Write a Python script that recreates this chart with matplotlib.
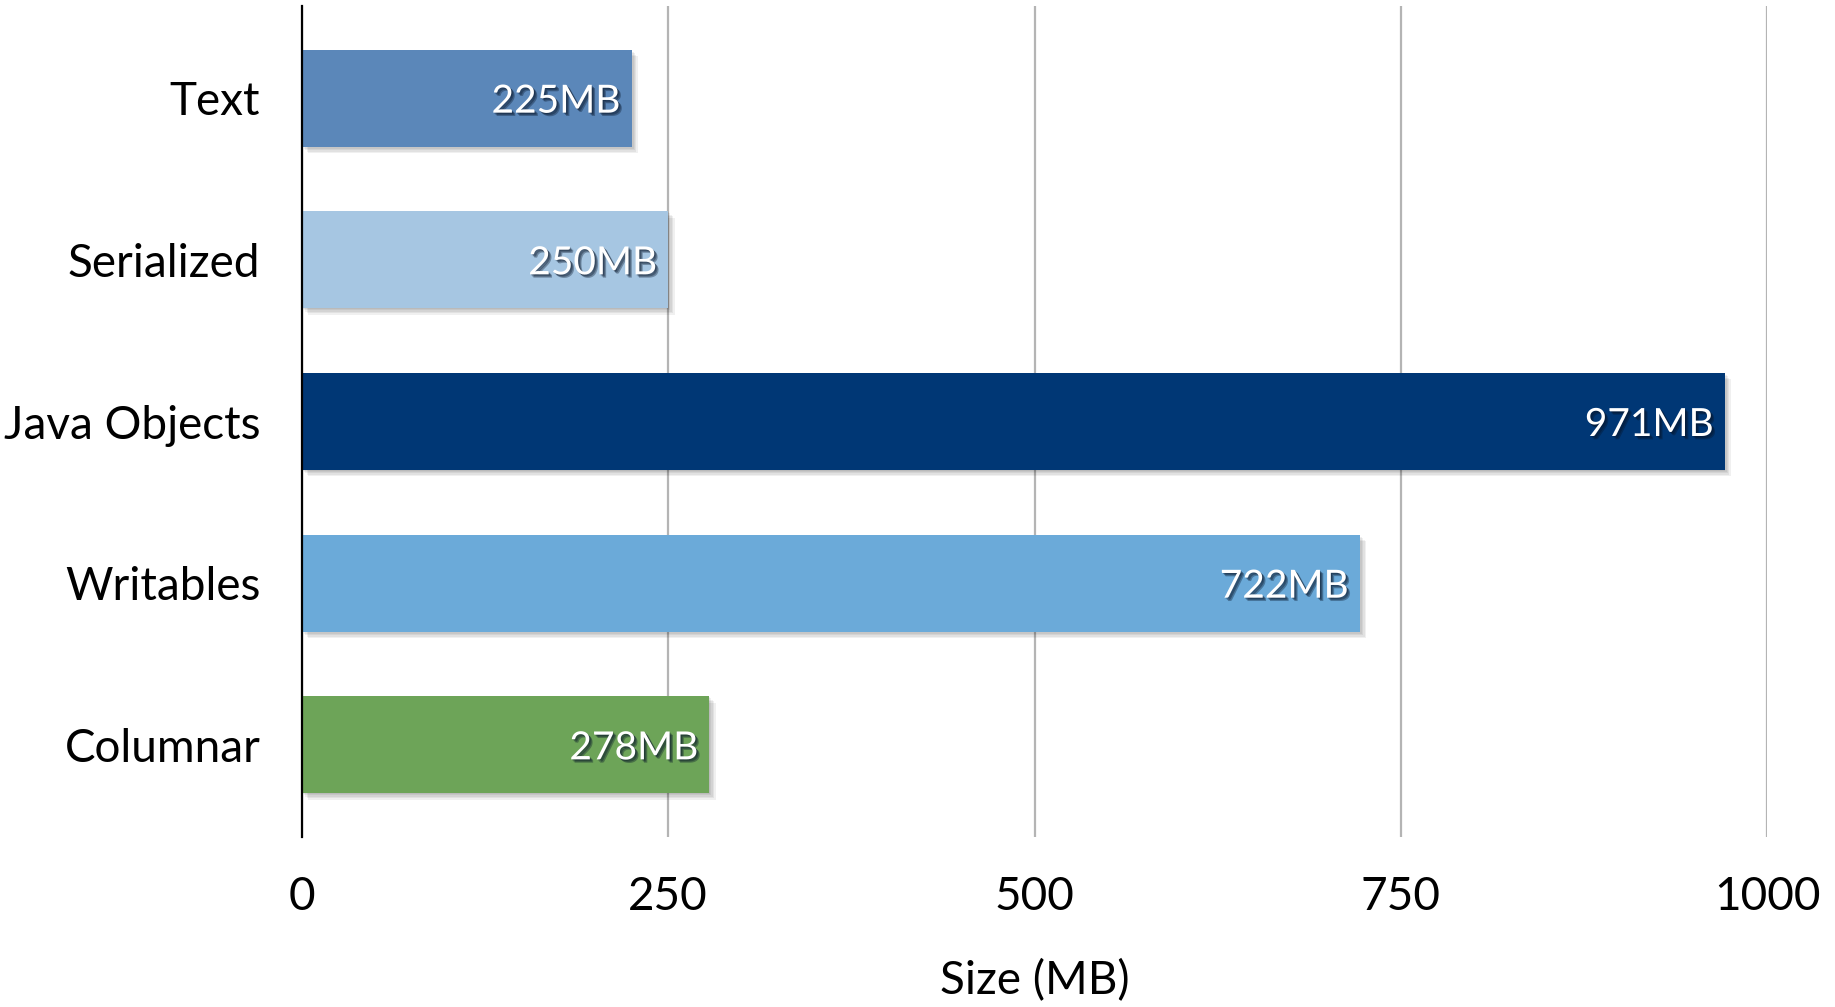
import matplotlib
matplotlib.use("Agg")
import matplotlib.pyplot as plt
import matplotlib.patheffects as pe

categories = ["Text", "Serialized", "Java Objects", "Writables", "Columnar"]
sizes_mb = [225, 250, 971, 722, 278]
bar_colors = ["#5B87B9", "#A6C6E2", "#003775", "#6BAAD9", "#6DA458"]
x_ticks = [0, 250, 500, 750, 1000]

plt.rcParams["font.family"] = ["Lato", "DejaVu Sans"]

fig = plt.figure(figsize=(18.35, 10.07), dpi=100)
ax = fig.add_axes([302 / 1835, 1 - 837 / 1007, (1767 - 302) / 1835, (837 - 6) / 1007])

y = list(range(len(categories)))
bars = ax.barh(y, sizes_mb, height=0.6, color=bar_colors, zorder=3)

# soft drop shadow built from a few faint, offset layers
bar_shadow = [pe.SimplePatchShadow(offset=(d, -d), shadow_rgbFace="#000000", alpha=0.06)
              for d in (0.5, 1.5, 2.5, 3.5, 4.5)]
for b in bars:
    b.set_path_effects(bar_shadow + [pe.Normal()])

label_shadow = [pe.SimplePatchShadow(offset=(d, -d), shadow_rgbFace="#061428", alpha=0.35)
                for d in (0.8, 1.6, 2.4)] + [pe.Normal()]
for yi, v in zip(y, sizes_mb):
    ax.annotate(f"{v}MB", xy=(v, yi), xytext=(-8, 0), textcoords="offset points",
                ha="right", va="center_baseline", color="white", fontsize=28, zorder=5,
                path_effects=label_shadow)

ax.set_xlim(0, 1000)
ax.set_ylim(len(categories) - 0.43, -0.57)
ax.set_xticks(x_ticks)
ax.set_xticklabels([str(t) for t in x_ticks])
ax.set_yticks(y)
ax.set_yticklabels(categories)
ax.tick_params(axis="both", length=0, labelsize=33, colors="black")
ax.tick_params(axis="y", pad=30)
ax.tick_params(axis="x", pad=28)

ax.grid(axis="x", color="#b4b4b4", linewidth=1.6, zorder=0)
ax.set_axisbelow(True)
for side in ["top", "right", "bottom"]:
    ax.spines[side].set_visible(False)
ax.spines["left"].set_color("black")
ax.spines["left"].set_linewidth(1.6)
ax.spines["left"].set_zorder(4)

ax.set_xlabel("Size (MB)", fontsize=33, labelpad=30)

fig.savefig("out.png", dpi=100)
